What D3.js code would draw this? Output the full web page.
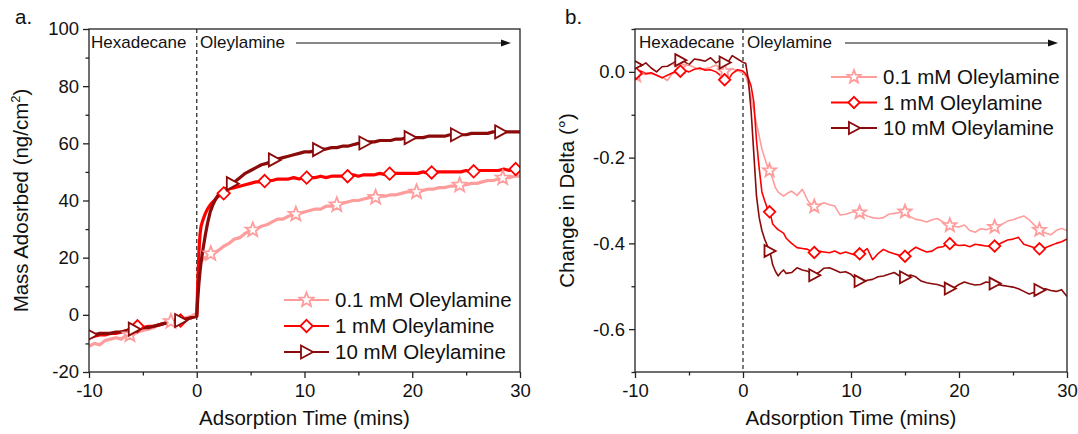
<!DOCTYPE html>
<html><head><meta charset="utf-8">
<script src="https://cdn.jsdelivr.net/npm/d3@7"></script>
<style>
body{margin:0;background:#fff;}
svg{display:block;font-family:"Liberation Sans",Arial,sans-serif;}
</style></head>
<body><svg id="c" width="1078" height="434"></svg>
<script>
// ---------- DATA ----------
const seriesNames = ["0.1 mM Oleylamine", "1 mM Oleylamine", "10 mM Oleylamine"];
const seriesColors = ["#ff9c9c", "#ff0000", "#8b0a0a"];
const seriesMarkers = ["star", "diamond", "triangle"];

// Panel a: Mass adsorbed (ng/cm2) vs time (mins)
const timeA = [-10,-9.5,-9,-8.5,-8,-7.5,-7,-6.5,-6,-5.5,-5,-4.5,-4,-3.5,-3,-2.5,-2,-1.5,-1,-0.5,0,
  0.1,0.2,0.3,0.4,0.6,0.8,1,1.25,1.5,1.75,
  2,2.5,3,3.5,4,4.5,5,5.5,6,6.5,7,7.5,8,8.5,9,9.5,10,10.5,11,11.5,12,12.5,13,13.5,14,14.5,15,15.5,16,16.5,17,17.5,18,18.5,19,19.5,20,20.5,21,21.5,22,22.5,23,23.5,24,24.5,25,25.5,26,26.5,27,27.5,28,28.5,29,29.5,30];
const massLow = [-11,-10,-10.5,-9,-8.5,-8,-8.5,-7,-7,-6,-5.5,-5,-4.5,-3.5,-3,-2.5,-1.5,-2,-1,-0.5,0.5,
  8,14,17,18.5,19.5,20,20.5,21.5,21,22,
  22.5,24,25,26.5,27,28.5,29.5,30,31,31.5,32.5,33.5,33.5,34.5,35,35.5,36,36.5,37,37,38,38,38.5,39,39.5,40,40,40.5,41,41,41.5,41.5,42,42,42.5,43,43,43,43.5,44,44,44.5,44.5,45,45,45.5,45.5,46,46,46.5,47,47,47.5,48,48,48.5,48.5];
const massMid = [-8,-7.5,-7,-7,-6.5,-6.5,-6,-5.5,-4.5,-4,-4.5,-4,-4,-3.5,-3,-2.5,-2.5,-2,-1.5,-1,-0.5,
  12,22,28,31,33.5,35.5,37,38.5,39.5,40.5,
  41.5,42.5,44,44.5,45,45.5,46,46.5,46.5,47,47,47.5,47.5,47.5,48,47.5,48,48,48,48.5,48,48.5,48.5,48.5,48.5,49,48.5,49,49,49,49.5,49,49.5,49.5,49.5,49.5,49.5,49.5,50,49.5,50,50,50,50,50,50,50.5,50,50.5,50.5,50.5,50.5,50.5,51,50.5,51,51];
const massHigh = [-7,-7,-6.5,-6.5,-6.5,-6,-6,-5.5,-5,-5,-4.5,-4.5,-4,-3.5,-3,-3,-2.5,-2,-1.5,-1,-0.5,
  6,11,15,18.5,23.5,28,32,36,38.5,40.5,
  42,43.5,45,46.5,48,49.5,50.5,51.5,52.5,53,54,54.5,55,55.5,56,56.5,57,57,57.5,58,58,58.5,58.5,59,59,59.5,60,60,60.5,60.5,61,61,61,61.5,61.5,62,62,62,62,62.5,62.5,62.5,62.5,63,63,63,63,63.5,63.5,63.5,63.5,64,64,64,64,64,64];
const markTimesA = [
  [-6.2,-2.4,1.3,5.2,9.2,13.0,16.6,20.4,24.4,28.4],
  [-5.5,-1.5,2.5,6.3,10.2,14.0,17.9,21.8,25.7,29.6],
  [-9.8,-5.8,-1.5,3.3,7.2,11.3,15.6,19.8,24.1,28.2]
];
const xTicksMajor = [-10, 0, 10, 20, 30];
const yTicksA = [-20, 0, 20, 40, 60, 80, 100];

// Panel b: change in Delta (deg) vs time (mins)
const timeB = [-10,-9.5,-9,-8.5,-8,-7.5,-7,-6.5,-6,-5.5,-5,-4.5,-4,-3.5,-3,-2.5,-2,-1.5,-1,-0.5,0,
  0.25,0.5,0.75,1,1.25,1.5,1.75,2,2.25,2.5,2.75,3,3.25,3.5,3.75,4,
  4.5,5,5.5,6,6.5,7,7.5,8,8.5,9,9.5,10,10.5,11,11.5,12,12.5,13,13.5,14,14.5,15,15.5,16,16.5,17,17.5,18,18.5,19,19.5,20,20.5,21,21.5,22,22.5,23,23.5,24,24.5,25,25.5,26,26.5,27,27.5,28,28.5,29,29.5,30];
const deltaLow = [-0.01,-0.004,-0.006,-0.004,-0.008,-0.012,-0.02,-0.002,0.01,0.014,0.016,0.01,0.005,0.008,0.01,0.016,0.006,-0.002,0.008,0.002,-0.002,
  -0.01,-0.03,-0.06,-0.09,-0.12,-0.15,-0.18,-0.2,-0.22,-0.232,-0.25,-0.27,-0.28,-0.285,-0.29,-0.285,
  -0.278,-0.288,-0.274,-0.3,-0.315,-0.31,-0.305,-0.31,-0.313,-0.334,-0.332,-0.328,-0.325,-0.33,-0.336,-0.34,-0.342,-0.34,-0.332,-0.33,-0.328,-0.326,-0.338,-0.344,-0.346,-0.35,-0.345,-0.342,-0.35,-0.357,-0.36,-0.362,-0.357,-0.37,-0.374,-0.366,-0.368,-0.364,-0.36,-0.355,-0.348,-0.345,-0.34,-0.336,-0.345,-0.358,-0.37,-0.376,-0.38,-0.37,-0.365,-0.37];
const deltaMid = [-0.005,0.002,-0.004,-0.002,-0.008,-0.014,-0.008,-0.002,0,0.004,0,0.006,0.009,0.004,0.005,0,-0.01,-0.024,-0.004,0.005,0.002,
  -0.005,-0.015,-0.033,-0.07,-0.16,-0.225,-0.28,-0.3,-0.318,-0.328,-0.355,-0.362,-0.368,-0.372,-0.376,-0.388,
  -0.4,-0.41,-0.412,-0.414,-0.422,-0.418,-0.42,-0.422,-0.418,-0.424,-0.42,-0.424,-0.428,-0.422,-0.412,-0.438,-0.424,-0.414,-0.42,-0.424,-0.428,-0.43,-0.418,-0.409,-0.415,-0.42,-0.418,-0.41,-0.408,-0.4,-0.402,-0.405,-0.404,-0.408,-0.402,-0.404,-0.406,-0.408,-0.405,-0.398,-0.392,-0.39,-0.386,-0.402,-0.406,-0.41,-0.413,-0.41,-0.405,-0.4,-0.396,-0.39];
const deltaHigh = [0.017,0.013,0.021,0.009,0,0.012,0.013,0.02,0.029,0.025,0.017,0.03,0.028,0.025,0.033,0.021,0.028,0.018,0.038,0.03,0.022,
  0.02,-0.02,-0.09,-0.19,-0.29,-0.34,-0.37,-0.39,-0.405,-0.42,-0.45,-0.465,-0.476,-0.468,-0.462,-0.47,
  -0.468,-0.457,-0.462,-0.465,-0.476,-0.468,-0.458,-0.457,-0.462,-0.468,-0.466,-0.472,-0.485,-0.49,-0.486,-0.484,-0.478,-0.476,-0.472,-0.468,-0.476,-0.479,-0.474,-0.478,-0.488,-0.492,-0.494,-0.496,-0.5,-0.506,-0.504,-0.496,-0.49,-0.494,-0.497,-0.496,-0.49,-0.492,-0.495,-0.498,-0.5,-0.502,-0.506,-0.512,-0.518,-0.514,-0.508,-0.506,-0.51,-0.512,-0.508,-0.524];
const markTimesB = [-9.9,-5.8,-1.7,2.46,6.6,10.8,15.0,19.15,23.3,27.45];
const yTicksB = [-0.6, -0.4, -0.2, 0.0];

// ---------- DRAWING ----------
const svg = d3.select("#c");
const FONT_TICK = 18.5, FONT_TITLE = 20.5, FONT_LEG = 20.5, FONT_ANN = 17;
const hyph = f => d => f(d).replace("\u2212", "-");

function markerPath(type, s) {
  if (type === "star") {
    const R = 7.5*s, r = 3.2*s, pts = [];
    for (let i = 0; i < 10; i++) {
      const a = -Math.PI/2 + i*Math.PI/5, rr = i % 2 ? r : R;
      pts.push([rr*Math.cos(a), rr*Math.sin(a)]);
    }
    return "M" + pts.map(p => p[0].toFixed(2)+","+p[1].toFixed(2)).join("L") + "Z";
  }
  if (type === "diamond") {
    const h = 6.2*s;
    return `M0,${-h}L${h},0L0,${h}L${-h},0Z`;
  }
  const w = 5.5*s, hh = 6.5*s;
  return `M${-w},${-hh}L${w+1},0L${-w},${hh}Z`;
}

function interp(ts, vs, t) {
  const i = d3.bisectLeft(ts, t);
  if (i <= 0) return vs[0];
  if (i >= ts.length) return vs[vs.length-1];
  const f = (t - ts[i-1]) / (ts[i] - ts[i-1]);
  return vs[i-1] + f*(vs[i]-vs[i-1]);
}

function panel(cfg) {
  const {x0, x1, y0, y1, yDomain, yTicks, yMinor, yFmt, times, series, markTimes, lineW, mScale,
         yTitle, yTitleX, label, labelX, legX, legY, legStep, legLine, arrowX0, arrowX1, hexX, oleX} = cfg;
  const x = d3.scaleLinear().domain([-10, 30]).range([x0, x1]);
  const y = d3.scaleLinear().domain(yDomain).range([y1, y0]);
  const g = svg.append("g");

  const cid = "clip" + label.replace(".", "");
  svg.append("clipPath").attr("id", cid).append("rect")
    .attr("x", x0).attr("y", y0).attr("width", x1-x0).attr("height", y1-y0);

  g.append("line").attr("x1", x(0)).attr("x2", x(0)).attr("y1", y0).attr("y2", y1)
    .attr("stroke", "#333").attr("stroke-width", 1.3).attr("stroke-dasharray", "4,3");

  const line = d3.line().x((d, i) => x(times[i])).y(d => y(d));
  const pg = g.append("g").attr("clip-path", `url(#${cid})`);
  series.forEach((vals, k) => {
    pg.append("path").attr("d", line(vals)).attr("fill", "none")
      .attr("stroke", seriesColors[k]).attr("stroke-width", lineW)
      .attr("stroke-linejoin", "round");
  });
  series.forEach((vals, k) => {
    const mt = Array.isArray(markTimes[0]) ? markTimes[k] : markTimes;
    pg.selectAll(null).data(mt).enter().append("path")
      .attr("transform", t => `translate(${x(t)},${y(interp(times, vals, t))})`)
      .attr("d", markerPath(seriesMarkers[k], mScale))
      .attr("fill", "#fff").attr("stroke", seriesColors[k]).attr("stroke-width", 1.8)
      .attr("stroke-linejoin", "miter");
  });

  g.append("rect").attr("x", x0).attr("y", y0).attr("width", x1-x0).attr("height", y1-y0)
    .attr("fill", "none").attr("stroke", "#222").attr("stroke-width", 1.3);

  const xa = g.append("g").attr("transform", `translate(0,${y1})`)
    .call(d3.axisBottom(x).tickValues(xTicksMajor).tickSize(6).tickPadding(6).tickFormat(hyph(d3.format("d"))));
  xa.select(".domain").remove();
  xa.selectAll("line").attr("stroke", "#222").attr("stroke-width", 1.3);
  xa.selectAll("text").attr("font-size", FONT_TICK).attr("fill", "#111").attr("font-family", "Liberation Sans, Arial, sans-serif");
  const xm = g.append("g").attr("transform", `translate(0,${y1})`)
    .call(d3.axisBottom(x).tickValues([-5, 5, 15, 25]).tickSize(3.5).tickFormat(""));
  xm.select(".domain").remove();
  xm.selectAll("line").attr("stroke", "#222").attr("stroke-width", 1.3);

  const ya = g.append("g").attr("transform", `translate(${x0},0)`)
    .call(d3.axisLeft(y).tickValues(yTicks).tickSize(6).tickPadding(4).tickFormat(hyph(yFmt)));
  ya.select(".domain").remove();
  ya.selectAll("line").attr("stroke", "#222").attr("stroke-width", 1.3);
  ya.selectAll("text").attr("font-size", FONT_TICK).attr("fill", "#111").attr("font-family", "Liberation Sans, Arial, sans-serif");
  const ym = g.append("g").attr("transform", `translate(${x0},0)`)
    .call(d3.axisLeft(y).tickValues(yMinor).tickSize(3.5).tickFormat(""));
  ym.select(".domain").remove();
  ym.selectAll("line").attr("stroke", "#222").attr("stroke-width", 1.3);

  g.append("text").attr("x", (x0+x1)/2).attr("y", 425).attr("text-anchor", "middle")
    .attr("font-size", FONT_TITLE).attr("fill", "#111").text("Adsorption Time (mins)");
  const yt = g.append("text").attr("transform", `translate(${yTitleX},${(y0+y1)/2}) rotate(-90)`)
    .attr("text-anchor", "middle").attr("font-size", FONT_TITLE).attr("fill", "#111");
  yTitle(yt);

  g.append("text").attr("x", labelX).attr("y", 24).attr("font-size", 20.5).attr("fill", "#111").text(label);

  g.append("text").attr("x", hexX).attr("y", 48).attr("font-size", FONT_ANN).attr("fill", "#111").text("Hexadecane");
  g.append("text").attr("x", oleX).attr("y", 48).attr("font-size", FONT_ANN).attr("fill", "#111").text("Oleylamine");
  g.append("line").attr("x1", arrowX0).attr("x2", arrowX1 - 8).attr("y1", 43).attr("y2", 43)
    .attr("stroke", "#111").attr("stroke-width", 1.2);
  g.append("path").attr("d", `M${arrowX1},43L${arrowX1-10},39.5L${arrowX1-10},46.5Z`).attr("fill", "#111");

  seriesNames.forEach((nm, k) => {
    const ly = legY + k*legStep;
    g.append("line").attr("x1", legX).attr("x2", legX + legLine).attr("y1", ly).attr("y2", ly)
      .attr("stroke", seriesColors[k]).attr("stroke-width", 2);
    g.append("path").attr("transform", `translate(${legX + legLine/2},${ly})`)
      .attr("d", markerPath(seriesMarkers[k], mScale)).attr("fill", "#fff")
      .attr("stroke", seriesColors[k]).attr("stroke-width", 1.8);
    g.append("text").attr("x", legX + legLine + 6).attr("y", ly + 7).attr("font-size", FONT_LEG)
      .attr("fill", "#111").text(nm);
  });
}

panel({
  x0: 89, x1: 520, y0: 29, y1: 372, yDomain: [-20, 100], yTicks: yTicksA,
  yMinor: [-10, 10, 30, 50, 70, 90], yFmt: d3.format("d"),
  times: timeA, series: [massLow, massMid, massHigh], markTimes: markTimesA, lineW: 3.2, mScale: 1.0,
  yTitle: t => { t.append("tspan").text("Mass Adosrbed (ng/cm");
                 t.append("tspan").attr("font-size", 13).attr("dy", -8).text("2");
                 t.append("tspan").attr("dy", 8).text(")"); },
  yTitleX: 28, label: "a.", labelX: 15, legX: 284, legY: 300, legStep: 26, legLine: 45,
  arrowX0: 296, arrowX1: 511, hexX: 91, oleX: 200
});

panel({
  x0: 635, x1: 1067, y0: 29, y1: 372, yDomain: [-0.7, 0.1], yTicks: yTicksB,
  yMinor: [-0.7, -0.5, -0.3, -0.1, 0.1], yFmt: d3.format(".1f"),
  times: timeB, series: [deltaLow, deltaMid, deltaHigh], markTimes: markTimesB, lineW: 1.6, mScale: 0.92,
  yTitle: t => { t.text("Change in Delta (°)"); },
  yTitleX: 574, label: "b.", labelX: 565, legX: 831, legY: 77, legStep: 25.5, legLine: 46,
  arrowX0: 845, arrowX1: 1058, hexX: 639, oleX: 747
});
</script>
</body></html>
